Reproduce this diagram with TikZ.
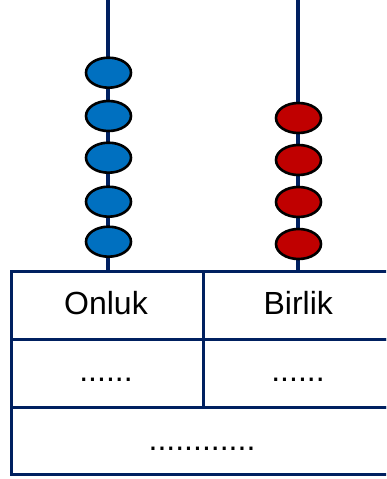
\documentclass[tikz,border=0pt]{standalone}
\usepackage{fontspec}
\setmainfont{Liberation Sans}
\usetikzlibrary{shapes.geometric}
\definecolor{rodcol}{HTML}{002060}
\definecolor{bluebead}{HTML}{0070C0}
\definecolor{redbead}{HTML}{C00000}
\tikzset{
  rod/.style={draw=rodcol, line width=3.3pt},
  bead/.style={ellipse, draw=black, line width=2.6pt, minimum width=45pt, minimum height=30pt, inner sep=0pt},
  bluebd/.style={bead, fill=bluebead},
  redbd/.style={bead, fill=redbead},
  cell/.style={draw=rodcol, line width=3.3pt, rectangle, inner sep=0pt},
  lbl/.style={font=\fontsize{32}{38}\selectfont, anchor=base, inner sep=0pt}
}
\begin{document}
\begin{tikzpicture}[x=1pt,y=-1pt]
\useasboundingbox (0,0) rectangle (386,479);
\clip (0,0) rectangle (386,479);
% rods
\coordinate (ltop) at (108,0);
\coordinate (lbot) at (108,270);
\coordinate (rtop) at (298,0);
\coordinate (rbot) at (298,270);
\draw[rod] (ltop) -- (lbot);
\draw[rod] (rtop) -- (rbot);
% table cells
\node[cell, minimum width=192.2pt, minimum height=68pt, anchor=north west] (c11) at (9.5,270) {};
\node[cell, minimum width=200pt, minimum height=68pt, anchor=north west] (c12) at (201.7,270) {};
\node[cell, minimum width=192.2pt, minimum height=67.7pt, anchor=north west] (c21) at (9.5,338) {};
\node[cell, minimum width=200pt, minimum height=67.7pt, anchor=north west] (c22) at (201.7,338) {};
\node[cell, minimum width=392.2pt, minimum height=67.3pt, anchor=north west] (c3) at (9.5,405.7) {};
% labels
\node[lbl] (onluk) at (106,314) {Onluk};
\node[lbl] (birlik) at (298.3,314) {Birlik};
\node[lbl] (d1) at (106,381.5) {......};
\node[lbl] (d2) at (298,381.5) {......};
\node[lbl] (d3) at (202,450) {............};
% blue beads
\foreach \y [count=\i] in {72.7,116,157.7,201.7,241.7}
  \node[bluebd] (b\i) at (108.5,\y) {};
% red beads
\foreach \y [count=\i] in {118,160,202,244}
  \node[redbd] (r\i) at (298.5,\y) {};
\end{tikzpicture}
\end{document}
